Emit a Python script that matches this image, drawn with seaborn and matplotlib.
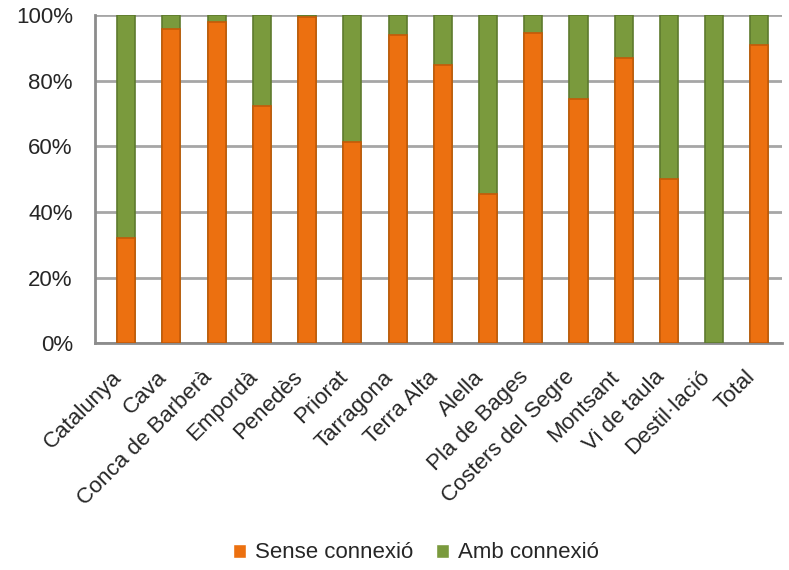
import seaborn as sns
import matplotlib.pyplot as plt
import matplotlib.transforms as mtransforms
from matplotlib.patches import Patch
import pandas as pd
import numpy as np

categories = ['Catalunya', 'Cava', 'Conca de Barberà', 'Empordà', 'Penedès', 'Priorat',
              'Tarragona', 'Terra Alta', 'Alella', 'Pla de Bages', 'Costers del Segre',
              'Montsant', 'Vi de taula', 'Destil·lació', 'Total']
sense = [32, 96, 98, 72.5, 99.5, 61.5, 94, 85, 45.5, 94.5, 74.5, 87, 50, 0, 91]
amb = [100 - v for v in sense]

orange = '#EC7010'
green = '#7A9A3D'

df = pd.DataFrame({'cat': categories,
                   'sense': np.array(sense) / 100,
                   'total': (np.array(sense) + np.array(amb)) / 100})

sns.set_style('white')
plt.rcParams['font.family'] = ['Liberation Sans', 'DejaVu Sans']

fig = plt.figure(figsize=(7.89, 5.70), dpi=100)
ax = fig.add_axes([0.1204, 0.398, 0.8707, 0.575])

sns.barplot(data=df, x='cat', y='total', color=green, width=0.4, ax=ax,
            edgecolor='#5E7A2E', linewidth=1.2, saturation=1, zorder=3)
n_green = len(ax.patches)
sns.barplot(data=df, x='cat', y='sense', color=orange, width=0.4, ax=ax,
            edgecolor='#C55A08', linewidth=1.2, saturation=1, zorder=4)
# hide zero-height orange bars (their edge would show as a thin line)
for p in ax.patches[n_green:]:
    if p.get_height() == 0:
        p.set_visible(False)

ax.set_xlim(-0.69, len(categories) - 0.5)
ax.set_ylim(0, 1)
yt = np.arange(0, 1.01, 0.2)
ax.set_yticks(yt)
ax.set_yticklabels([f'{int(round(t * 100))}%' for t in yt], fontsize=16)
ax.yaxis.grid(True, color='#A6A6A6', linewidth=2, zorder=0)
ax.set_axisbelow(True)

ax.set_xticks(range(len(categories)))
ax.set_xticklabels(categories, rotation=45, ha='right', rotation_mode='anchor', fontsize=16)
ax.tick_params(axis='x', which='major', length=0, pad=17)
ax.tick_params(axis='y', length=5, width=1.5, color='#909090', pad=11)
shift = mtransforms.ScaledTranslation(-15 / 100, 0, fig.dpi_scale_trans)
for lab in ax.get_xticklabels():
    lab.set_transform(lab.get_transform() + shift)
ax.set_xlabel('')
ax.set_ylabel('')

for side in ['top', 'right']:
    ax.spines[side].set_visible(False)
for side in ['left', 'bottom']:
    ax.spines[side].set_color('#8C8C8C')
    ax.spines[side].set_linewidth(2)

ax.set_xticks(np.arange(-0.69, len(categories), 1), minor=True)
ax.tick_params(axis='x', which='minor', length=6, color='#8C8C8C', width=1.5, direction='out')

handles = [Patch(facecolor=orange, label='Sense connexió'),
           Patch(facecolor=green, label='Amb connexió')]
fig.legend(handles=handles, loc='center', bbox_to_anchor=(0.527, 0.03), ncol=2,
           frameon=False, fontsize=16, handlelength=0.6, handleheight=0.6,
           handletextpad=0.4, columnspacing=1.0)

plt.savefig('out.png', dpi=100)
plt.close()
